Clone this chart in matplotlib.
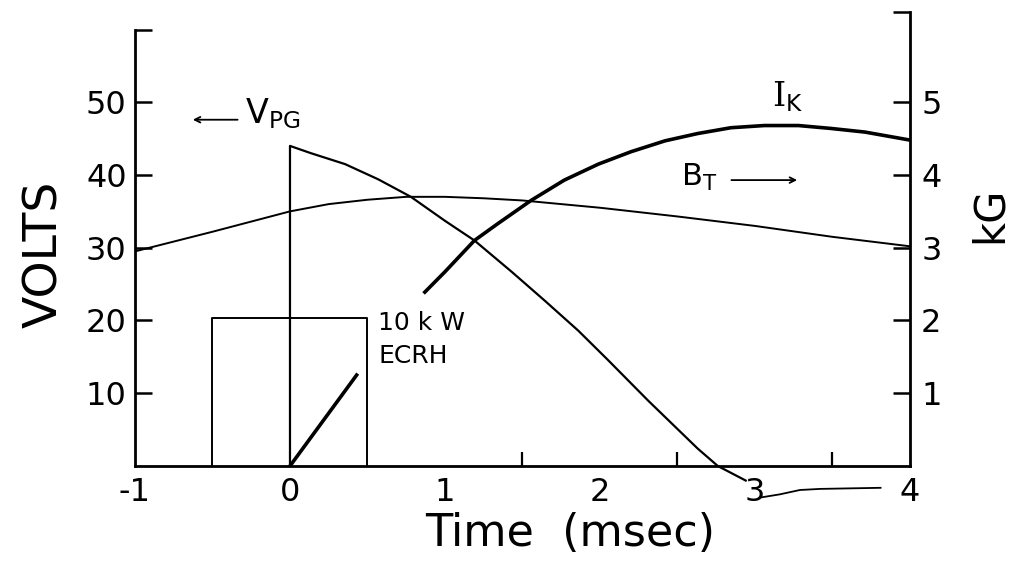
import matplotlib
matplotlib.use("Agg")
import matplotlib.pyplot as plt

# probe-gun voltage (V) vs time (msec)
vpg_t = [0, 0, 0.135, 0.355, 0.57, 0.78, 1.0, 1.19, 1.43, 1.645, 1.86, 2.05, 2.31, 2.63, 2.76, 2.94]
vpg_v = [0, 44, 43.0, 41.5, 39.4, 37.0, 33.7, 31.0, 26.7, 22.7, 18.6, 14.6, 9.0, 2.4, 0, -2.0]

# toroidal field (kG)
bt_t = [-1, -0.5, 0, 0.25, 0.5, 0.75, 1.0, 1.25, 1.5, 2.0, 2.5, 3.0, 3.5, 4.0]
bt_kg = [2.95, 3.22, 3.5, 3.6, 3.66, 3.7, 3.7, 3.68, 3.65, 3.55, 3.43, 3.3, 3.15, 3.02]

# I_K trace (kG scale)
ik_t = [0.87, 1.0, 1.19, 1.34, 1.555, 1.77, 1.99, 2.2, 2.42, 2.63, 2.845, 3.06, 3.28, 3.49, 3.71, 4.0]
ik_kg = [2.39, 2.67, 3.10, 3.33, 3.65, 3.93, 4.15, 4.32, 4.47, 4.57, 4.65, 4.68, 4.68, 4.64, 4.59, 4.48]

# ECRH pulse window and early ramp
ecrh_t = [-0.5, -0.5, 0.5, 0.5]
ecrh_v = [0, 20.3, 20.3, 0]
ramp_t = [0, 0.43]
ramp_v = [0, 12.5]

x_ticks = [-1, 0, 1, 2, 3, 4]
v_ticks = [10, 20, 30, 40, 50]
kg_ticks = [1, 2, 3, 4, 5]

plt.rcParams['font.family'] = ['DejaVu Sans']

fig = plt.figure(figsize=(10.18, 5.66), dpi=100)
ax = fig.add_axes([0.1326, 0.1767, 0.7613, 0.802])
ax.set_xlim(-1, 4)
ax.set_ylim(0, 62.4)
ax2 = ax.twinx()
ax2.set_ylim(0, 6.24)

for s in ['top', 'right']:
    ax.spines[s].set_visible(False)
for s in ['top', 'left', 'bottom']:
    ax2.spines[s].set_visible(False)
ax.spines['left'].set_bounds(0, 60)
ax.spines['left'].set_linewidth(2.0)
ax.spines['bottom'].set_linewidth(2.0)
ax2.spines['right'].set_linewidth(2.0)

ax.plot(vpg_t, vpg_v, color='black', lw=1.6, clip_on=False)
ax.plot(ecrh_t, ecrh_v, color='black', lw=1.4)
ax.plot(ramp_t, ramp_v, color='black', lw=2.6)
ax2.plot(bt_t, bt_kg, color='black', lw=1.4)
ax2.plot(ik_t, ik_kg, color='black', lw=2.6)

# ticks
ax.set_xticks(x_ticks)
ax.set_xticklabels(['-1', '0', '1', '2', '3', '4'])
ax.tick_params(axis='x', length=0, pad=8, labelsize=23)
ax.set_xticks([1, 1.5, 2, 2.5, 3, 3.5], minor=True)
ax.tick_params(axis='x', which='minor', direction='in', length=10, width=1.6)

ax.set_yticks(v_ticks + [60])
ax.set_yticklabels([str(v) for v in v_ticks] + [''])
ax.tick_params(axis='y', direction='in', length=12, width=1.8, pad=6, labelsize=23)

ax2.set_yticks(kg_ticks + [6.24])
ax2.set_yticklabels([str(k) for k in kg_ticks] + [''])
ax2.tick_params(axis='y', direction='in', length=12, width=1.8, pad=8, labelsize=23)

# axis titles
fig.text(0.044, 0.55, 'VOLTS', rotation=90, fontsize=34, ha='center', va='center')
fig.text(0.972, 0.62, 'kG', rotation=90, fontsize=30, ha='center', va='center')
fig.text(0.56, 0.057, 'Time  (msec)', fontsize=32, ha='center', va='center')

# curve labels
ax.text(-0.29, 48.5, r'V$_{\mathrm{PG}}$', fontsize=24, ha='left', va='center')
ax.annotate('', xy=(-0.645, 47.6), xytext=(-0.32, 47.6),
            arrowprops=dict(arrowstyle='->', lw=1.3, color='black'))
ax.text(2.52, 39.6, r'B$_{\mathrm{T}}$', fontsize=22, ha='left', va='center')
ax.annotate('', xy=(3.29, 39.3), xytext=(2.83, 39.3),
            arrowprops=dict(arrowstyle='->', lw=1.3, color='black'))
ax.text(3.11, 50.8, r'I$_{\mathrm{K}}$', fontsize=24, ha='left', va='center',
        family='DejaVu Serif')
ax.text(0.57, 19.7, '10 k W', fontsize=18, ha='left', va='center')
ax.text(0.57, 15.1, 'ECRH', fontsize=18, ha='left', va='center')

# connector drawn between the 3 and 4 labels
link_t = [3.045, 3.16, 3.29, 3.42, 3.81]
link_v = [-4.3, -3.9, -3.3, -3.15, -3.0]
ax.plot(link_t, link_v, color='black', lw=1.3, clip_on=False)

fig.savefig('out.png', dpi=100)
